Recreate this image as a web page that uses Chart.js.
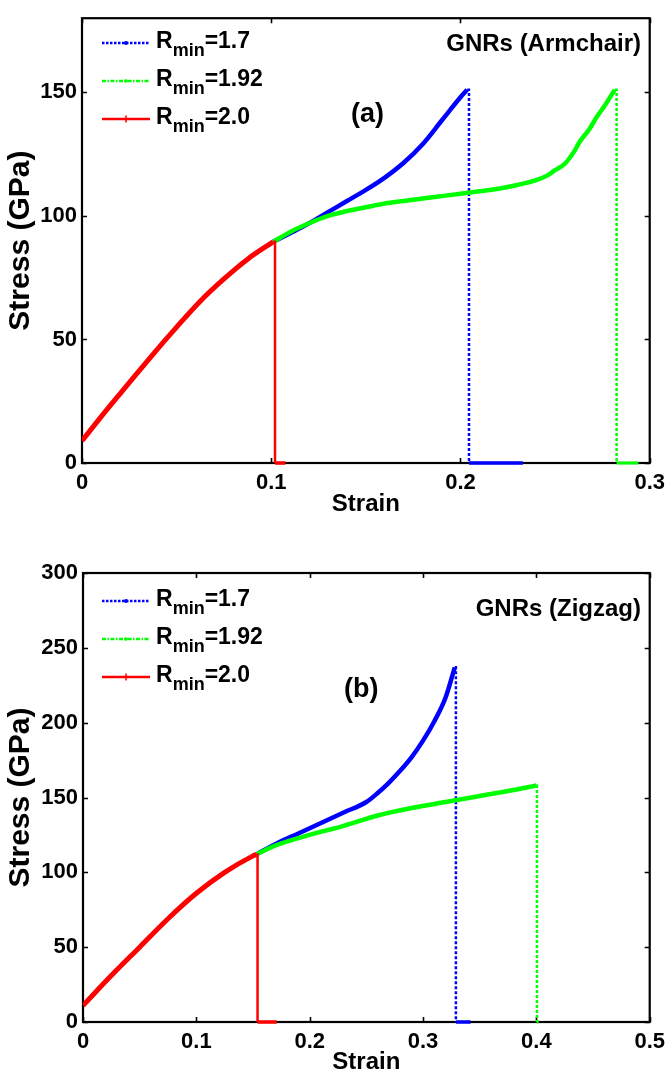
<!DOCTYPE html>
<html><head><meta charset="utf-8">
<script src="https://cdn.jsdelivr.net/npm/chart.js@4.4.1/dist/chart.umd.min.js"></script>
<style>
html,body{margin:0;padding:0;background:#fff;}
body{width:672px;height:1074px;position:relative;overflow:hidden;font-family:"Liberation Sans",Arial,sans-serif;font-weight:bold;color:#000;}
.wrap{position:absolute;left:0;width:672px;}
#w1{top:0;height:530px;}
#w2{top:530px;height:544px;}
.row{position:absolute;left:100px;height:0;white-space:nowrap;}
.row svg{position:absolute;left:0;top:-6px;}
.row .lab{position:absolute;left:56px;top:-14px;font-size:23px;line-height:23px;}
.row sub{font-size:18px;line-height:0;position:relative;top:8px;vertical-align:baseline;}
.ann{position:absolute;font-size:24px;line-height:24px;white-space:nowrap;}
</style></head>
<body>
<div class="wrap" id="w1"><canvas id="c1" width="672" height="530"></canvas></div>
<div class="wrap" id="w2"><canvas id="c2" width="672" height="544"></canvas></div>
<div id="legends"></div>
<div class="ann" style="right:31px;top:31px;">GNRs (Armchair)</div>
<div class="ann" style="left:351px;top:100px;font-size:27px;line-height:27px;">(a)</div>
<div class="ann" style="right:31px;top:596px;">GNRs (Zigzag)</div>
<div class="ann" style="left:344px;top:675px;font-size:27px;line-height:27px;">(b)</div>
<script>
// ---------- data: panel (a) armchair ----------
const armRedX   = [0, 0.0125, 0.025, 0.0375, 0.05, 0.0625, 0.075, 0.0875, 0.1, 0.101];
const armRedY   = [9, 21, 32.5, 44, 55, 65.5, 74.5, 82.5, 89, 89.5];
const armRedDropX = [0.101, 0.102, 0.102];
const armRedDropY = [89.5, 89.5, 0];
const armRedTailX = [0.102, 0.1075];
const armRedTailY = [0, 0];

const armBlueX  = [0.101, 0.11, 0.12, 0.13, 0.14, 0.15, 0.16, 0.17, 0.18, 0.19, 0.2, 0.2035];
const armBlueY  = [89.5, 93, 97, 101.5, 106, 110.5, 115.5, 121.5, 129, 138.5, 148, 151];
const armBlueDropX = [0.2035, 0.2045, 0.2045];
const armBlueDropY = [151, 151, 0];
const armBlueTailX = [0.2045, 0.233];
const armBlueTailY = [0, 0];

const armGreenX = [0.101, 0.11, 0.12, 0.13, 0.14, 0.15, 0.16, 0.17, 0.18, 0.19, 0.2, 0.21, 0.22, 0.23, 0.24, 0.246, 0.25, 0.255, 0.26, 0.263, 0.268, 0.272, 0.277, 0.2815];
const armGreenY = [89.5, 93.5, 97, 100, 102, 103.5, 105, 106, 107, 108, 109, 110, 111, 112.5, 114.5, 116.4, 118.5, 121, 126, 130, 135, 140, 145.5, 151];
const armGreenDropX = [0.2815, 0.2825, 0.2825];
const armGreenDropY = [151, 151, 0];
const armGreenTailX = [0.2825, 0.294];
const armGreenTailY = [0, 0];

// ---------- data: panel (b) zigzag ----------
const zigRedX   = [0, 0.025, 0.05, 0.075, 0.1, 0.125, 0.15, 0.153];
const zigRedY   = [11, 31, 50, 69, 86, 100, 111, 112];
const zigRedDropX = [0.153, 0.154, 0.154];
const zigRedDropY = [112, 112, 0];
const zigRedTailX = [0.154, 0.171];
const zigRedTailY = [0, 0];

const zigBlueX  = [0.153, 0.17, 0.19, 0.21, 0.23, 0.25, 0.26, 0.27, 0.28, 0.29, 0.3, 0.31, 0.32, 0.328];
const zigBlueY  = [112, 119, 126, 133, 140, 147, 153, 160, 168, 177, 188, 201, 217, 237];
const zigBlueDropX = [0.328, 0.329, 0.329];
const zigBlueDropY = [237, 237, 0];
const zigBlueTailX = [0.329, 0.342];
const zigBlueTailY = [0, 0];

const zigGreenX = [0.153, 0.17, 0.2, 0.23, 0.26, 0.29, 0.32, 0.35, 0.38, 0.4];
const zigGreenY = [112, 118, 125, 131, 138, 143, 147, 151, 155, 158];
const zigGreenDropX = [0.4, 0.4005, 0.4005];
const zigGreenDropY = [158, 158, 0];
const zigGreenTailX = [0.4005, 0.402];
const zigGreenTailY = [0, 0];

// ---------- ticks / labels ----------
const armXTicks = [0, 0.1, 0.2, 0.3];
const armYTicks = [0, 50, 100, 150];
const zigXTicks = [0, 0.1, 0.2, 0.3, 0.4, 0.5];
const zigYTicks = [0, 50, 100, 150, 200, 250, 300];
const legendLabels = ['1.7', '1.92', '2.0'];
const xTitle = 'Strain';
const yTitle = 'Stress (GPa)';

const BLUE = '#0000ff', GREEN = '#00ff00', RED = '#ff0000';
const pts = (xs, ys) => xs.map((x, i) => ({x, y: ys[i]}));

function curve(xs, ys, color, w) {
  return {data: pts(xs, ys), borderColor: color, borderWidth: w, pointRadius: 0,
          cubicInterpolationMode: 'monotone', fill: false};
}
function drop(xs, ys, color, w, dash) {
  return {data: pts(xs, ys), borderColor: color, borderWidth: w, pointRadius: 0,
          tension: 0, borderDash: dash, fill: false, clip: 4};
}

const framePlugin = {
  id: 'frame',
  beforeDatasetsDraw(chart) {
    const {ctx, chartArea: a, scales} = chart;
    ctx.save();
    ctx.strokeStyle = '#000';
    ctx.lineWidth = 1.6;
    const tl = 5;
    ctx.beginPath();
    scales.x.ticks.forEach(t => {
      const px = Math.round(scales.x.getPixelForValue(t.value)) + 0.5;
      ctx.moveTo(px, a.bottom); ctx.lineTo(px, a.bottom - tl);
      ctx.moveTo(px, a.top); ctx.lineTo(px, a.top + tl);
    });
    scales.y.ticks.forEach(t => {
      const py = Math.round(scales.y.getPixelForValue(t.value)) + 0.5;
      ctx.moveTo(a.left, py); ctx.lineTo(a.left + tl, py);
      ctx.moveTo(a.right, py); ctx.lineTo(a.right - tl, py);
    });
    ctx.stroke();
    ctx.lineWidth = 2.2;
    ctx.strokeRect(a.left, a.top, a.right - a.left, a.bottom - a.top);
    ctx.restore();
  }
};

function makeChart(id, cfg) {
  const fam = '"Liberation Sans", Arial, sans-serif';
  const tickFont = {family: fam, size: 22, weight: 'bold'};
  const xTitleFont = {family: fam, size: 24, weight: 'bold', lineHeight: 1};
  const yTitleFont = {family: fam, size: 30, weight: 'bold', lineHeight: 1};
  return new Chart(document.getElementById(id), {
    type: 'line',
    data: {datasets: cfg.datasets},
    options: {
      responsive: false, animation: false, devicePixelRatio: 1,
      layout: {padding: {top: cfg.padTop, right: cfg.padRight, left: 0, bottom: 0}},
      plugins: {legend: {display: false}, tooltip: {enabled: false}},
      scales: {
        x: {
          type: 'linear', min: cfg.xTicks[0], max: cfg.xTicks[cfg.xTicks.length - 1],
          afterBuildTicks: s => { s.ticks = cfg.xTicks.map(v => ({value: v})); },
          afterFit: s => { s.height = cfg.xH; },
          grid: {display: false, drawTicks: false}, border: {display: false},
          ticks: {color: '#000', font: tickFont, padding: 7, maxRotation: 0,
                  callback: v => v === 0 ? '0' : (+v).toFixed(1)},
          title: {display: true, text: xTitle, color: '#000', font: xTitleFont,
                  padding: {top: 0, bottom: cfg.xTitlePad}}
        },
        y: {
          type: 'linear', min: 0, max: cfg.yMax,
          afterBuildTicks: s => { s.ticks = cfg.yTicks.map(v => ({value: v})); },
          afterFit: s => { s.width = cfg.yW; },
          grid: {display: false, drawTicks: false}, border: {display: false},
          ticks: {color: '#000', font: tickFont, padding: 5},
          title: {display: true, text: yTitle, color: '#000', font: yTitleFont,
                  padding: {top: 6, bottom: 0}}
        }
      }
    },
    plugins: [framePlugin]
  });
}

makeChart('c1', {
  padTop: 12, padRight: 19, xH: 67, yW: 82, yMax: 180, xTitlePad: 14,
  xTicks: armXTicks, yTicks: armYTicks,
  datasets: [
    curve(armRedX, armRedY, RED, 5),
    drop(armRedDropX, armRedDropY, RED, 2.5, []),
    drop(armRedTailX, armRedTailY, RED, 3.5, []),
    curve(armGreenX, armGreenY, GREEN, 4.5),
    drop(armGreenDropX, armGreenDropY, GREEN, 2.5, [3, 2]),
    drop(armGreenTailX, armGreenTailY, GREEN, 3, []),
    curve(armBlueX, armBlueY, BLUE, 4.5),
    drop(armBlueDropX, armBlueDropY, BLUE, 2.5, [3, 2]),
    drop(armBlueTailX, armBlueTailY, BLUE, 3.5, [])
  ]
});

makeChart('c2', {
  padTop: 43, padRight: 18, xH: 52, yW: 83, yMax: 300, xTitlePad: 0,
  xTicks: zigXTicks, yTicks: zigYTicks,
  datasets: [
    curve(zigRedX, zigRedY, RED, 5),
    drop(zigRedDropX, zigRedDropY, RED, 2.5, []),
    drop(zigRedTailX, zigRedTailY, RED, 3.5, []),
    curve(zigGreenX, zigGreenY, GREEN, 4.5),
    drop(zigGreenDropX, zigGreenDropY, GREEN, 2.5, [3, 2]),
    drop(zigGreenTailX, zigGreenTailY, GREEN, 3, []),
    curve(zigBlueX, zigBlueY, BLUE, 4.5),
    drop(zigBlueDropX, zigBlueDropY, BLUE, 2.5, [3, 2]),
    drop(zigBlueTailX, zigBlueTailY, BLUE, 3.5, [])
  ]
});

// ---------- legends (HTML, with subscripts) ----------
const swatches = [
  '<svg width="52" height="12"><line x1="2" y1="6" x2="50" y2="6" stroke="' + BLUE + '" stroke-width="2.5" stroke-dasharray="2.5,1.5"/><circle cx="26" cy="6" r="2" fill="' + BLUE + '"/></svg>',
  '<svg width="52" height="12"><line x1="2" y1="6" x2="50" y2="6" stroke="' + GREEN + '" stroke-width="2.5" stroke-dasharray="4,1.5,1.5,1.5"/><circle cx="26" cy="6" r="1.8" fill="' + GREEN + '"/></svg>',
  '<svg width="52" height="12"><line x1="2" y1="6" x2="50" y2="6" stroke="' + RED + '" stroke-width="2.5"/><line x1="26" y1="2.5" x2="26" y2="9.5" stroke="' + RED + '" stroke-width="1.5"/></svg>'
];
function buildLegend(rowYs) {
  return rowYs.map((y, i) =>
    '<div class="row" style="top:' + y + 'px">' + swatches[i] +
    '<span class="lab">R<sub>min</sub>=' + legendLabels[i] + '</span></div>').join('');
}
document.getElementById('legends').innerHTML = buildLegend([43, 81, 119]) + buildLegend([601, 639, 677]);
</script>
</body></html>
